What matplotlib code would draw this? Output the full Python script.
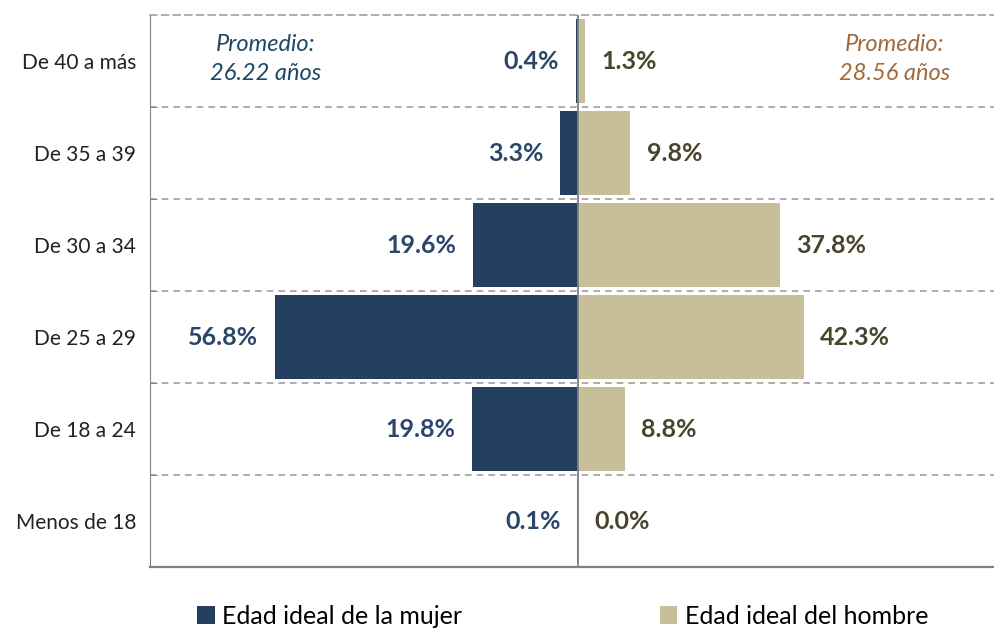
import matplotlib
matplotlib.use("Agg")
import matplotlib.pyplot as plt
import numpy as np

plt.rcParams['font.family'] = ['Lato', 'DejaVu Sans']

# age groups, bottom to top
categories = ['Menos de 18', 'De 18 a 24', 'De 25 a 29', 'De 30 a 34', 'De 35 a 39', 'De 40 a más']
mujer = [0.1, 19.8, 56.8, 19.6, 3.3, 0.4]
hombre = [0.0, 8.8, 42.3, 37.8, 9.8, 1.3]
series_names = ['Edad ideal de la mujer', 'Edad ideal del hombre']
promedio_mujer = 'Promedio:\n26.22 años'
promedio_hombre = 'Promedio:\n28.56 años'

c_mujer = '#243f60'
c_hombre = '#c7bf9a'
c_lab_mujer = '#2b4669'
c_lab_hombre = '#48452c'

fig = plt.figure(figsize=(9.94, 6.3), dpi=100)
ax = fig.add_axes([150 / 994, 0.1, 844 / 994, 0.876])

y = np.arange(len(categories))
ax.barh(y, [-v for v in mujer], height=0.91, color=c_mujer, label=series_names[0], zorder=2)
ax.barh(y, hombre, height=0.91, color=c_hombre, label=series_names[1], zorder=2)
ax.axvline(0, color='#808080', lw=1.3, zorder=3)

for i in range(len(categories)):
    ax.annotate('{:.1f}%'.format(mujer[i]), (-mujer[i], y[i]), xytext=(-12, 0),
                textcoords='offset points', ha='right', va='center',
                fontsize=18, fontweight='bold', color=c_lab_mujer)
    ax.annotate('{:.1f}%'.format(hombre[i]), (hombre[i], y[i]), xytext=(12, 0),
                textcoords='offset points', ha='left', va='center',
                fontsize=18, fontweight='bold', color=c_lab_hombre)

ax.text(-58.5, 5.02, promedio_mujer, ha='center', va='center', fontsize=17,
        style='italic', color='#1f4866', linespacing=1.45)
ax.text(59.3, 5.02, promedio_hombre, ha='center', va='center', fontsize=17,
        style='italic', color='#a06a3c', linespacing=1.45)

ax.set_xlim(-80.2, 78)
ax.set_ylim(-0.5, 5.5)
ax.set_xticks([])
ax.set_yticks(y)
ax.set_yticklabels(categories, fontsize=15, color='#222222')
ax.tick_params(axis='y', length=0, pad=10)
ax.set_yticks(np.arange(0.5, 5, 1), minor=True)
ax.tick_params(axis='y', which='minor', length=5, direction='in', color='#808080')
for b in np.arange(0.5, 5, 1):
    ax.axhline(b, color='#a0a0a0', lw=1.2, ls=(0, (4, 3)), zorder=1)

ax.spines['right'].set_visible(False)
ax.spines['left'].set_color('#808080')
ax.spines['bottom'].set_color('#808080')
ax.spines['bottom'].set_linewidth(1.6)
ax.spines['top'].set_color('#a0a0a0')
ax.spines['top'].set_linestyle((0, (4, 3)))
ax.spines['top'].set_linewidth(1.2)

leg = fig.legend(loc='center', bbox_to_anchor=(0.566, 0.022), ncol=2, frameon=False,
                 fontsize=18, handlelength=0.7, handleheight=0.7, handletextpad=0.3,
                 columnspacing=7.9)

fig.savefig('out.png', dpi=100)
